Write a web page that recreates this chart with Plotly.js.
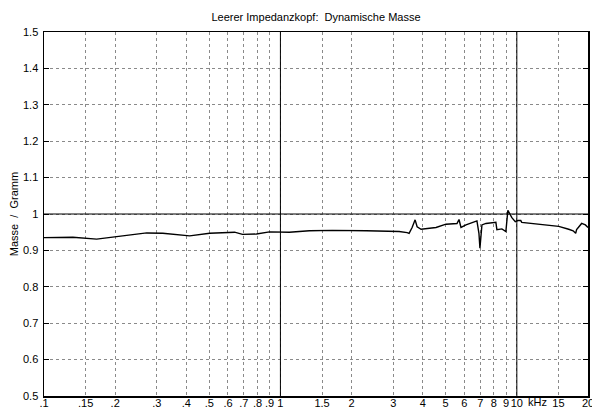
<!DOCTYPE html>
<html>
<head>
<meta charset="utf-8">
<script src="https://cdn.plot.ly/plotly-3.0.1.min.js"></script>
<style>html,body{margin:0;padding:0;background:#fff;}#chart{width:592px;height:408px;}</style>
</head>
<body>
<div id="chart"></div>
<script>
// Frequency in kHz
const freq = [0.1, 0.1325, 0.167, 0.203, 0.272, 0.318, 0.413, 0.502, 0.64, 0.691,
  0.792, 0.899, 1.09, 1.326, 1.658, 2.307, 2.617, 3.178, 3.435, 3.502,
  3.606, 3.713, 3.786, 3.936, 4.552, 5.016, 5.583, 5.694, 5.805, 6.094,
  6.78, 6.914, 6.981, 7.118, 7.4, 8.155, 8.234, 8.645, 8.988, 9.075,
  9.163, 9.526, 9.85, 10.1, 10.39, 10.49, 11.57, 13.0, 15.04, 16.57,
  17.3, 17.74, 17.9, 18.8, 19.5, 20];
// Dynamic mass in gram
const mass = [0.935, 0.936, 0.931, 0.937, 0.948, 0.947, 0.940, 0.947, 0.950, 0.944,
  0.945, 0.951, 0.950, 0.954, 0.955, 0.954, 0.954, 0.952, 0.949, 0.947,
  0.963, 0.984, 0.965, 0.958, 0.963, 0.972, 0.974, 0.985, 0.963, 0.970,
  0.981, 0.947, 0.906, 0.970, 0.974, 0.977, 0.957, 0.959, 0.952, 0.979,
  1.010, 0.990, 0.979, 0.982, 0.982, 0.977, 0.974, 0.971, 0.966, 0.958,
  0.954, 0.947, 0.957, 0.974, 0.970, 0.963];

const xTickVals = [0.1, 0.15, 0.2, 0.3, 0.4, 0.5, 0.6, 0.7, 0.8, 0.9, 1, 1.5, 2, 3, 4, 5, 6, 7, 8, 9, 10, 15, 20];
const xTickText = ['.1', '.15', '.2', '.3', '.4', '.5', '.6', '.7', '.8', '.9', '1', '1.5', '2', '3', '4', '5', '6', '7', '8', '9', '10', '15', '20'];
const yTickVals = [0.5, 0.6, 0.7, 0.8, 0.9, 1, 1.1, 1.2, 1.3, 1.4, 1.5];
const yTickText = ['0.5', '0.6', '0.7', '0.8', '0.9', '1', '1.1', '1.2', '1.3', '1.4', '1.5'];
const decadeLines = [1, 10];
const yRange = [0.5, 1.5];
const xRange = [0.1, 20];

const font = 'Liberation Sans, Arial, Helvetica, sans-serif';

const traces = decadeLines.map(v => ({
  x: [v, v], y: yRange, mode: 'lines', type: 'scatter',
  line: {color: '#000', width: 1}, hoverinfo: 'skip', showlegend: false
}));
traces.push({
  x: freq, y: mass, mode: 'lines', type: 'scatter',
  line: {color: '#000', width: 1.4}, showlegend: false
});

const layout = {
  width: 592, height: 408,
  margin: {l: 44, r: 4, t: 32, b: 12, pad: 0},
  paper_bgcolor: '#fff', plot_bgcolor: '#fff',
  font: {family: font, size: 11, color: '#000'},
  title: {text: 'Leerer Impedanzkopf:  Dynamische Masse', x: 0.5, xref: 'paper', y: 0.958, yref: 'container', yanchor: 'middle', font: {size: 11, family: font, color: '#000'}},
  xaxis: {
    type: 'log', range: [Math.log10(xRange[0]), Math.log10(xRange[1])],
    tickvals: xTickVals, ticktext: xTickText, tickangle: 0,
    showgrid: true, gridcolor: '#8a8a8a', griddash: 'dot', gridwidth: 1,
    showline: true, mirror: true, linecolor: '#000', linewidth: 1.5,
    ticks: '', zeroline: false, automargin: false,
    ticklabelstandoff: -4, ticklabeloverflow: 'allow',
    tickfont: {size: 11, family: font, color: '#000'}
  },
  yaxis: {
    range: yRange, tickvals: yTickVals, ticktext: yTickText,
    showgrid: true, gridcolor: '#8a8a8a', griddash: 'dot', gridwidth: 1,
    showline: true, mirror: 'ticks', linecolor: '#000', linewidth: 1.5,
    ticks: 'inside', ticklen: 5, tickcolor: '#000', ticklabelstandoff: 2,
    zeroline: false, automargin: false, ticklabeloverflow: 'allow',
    title: {text: 'Masse  /  Gramm', standoff: 2, font: {size: 11, family: font, color: '#000'}},
    tickfont: {size: 11, family: font, color: '#000'}
  },
  shapes: [{
    type: 'line', xref: 'paper', x0: 0, x1: 1, yref: 'y', y0: 1, y1: 1,
    line: {color: '#000', width: 1}
  }],
  annotations: [{
    text: 'kHz', xref: 'paper', x: (Math.log10(10) - Math.log10(0.1)) / (Math.log10(20) - Math.log10(0.1)),
    xshift: 9, xanchor: 'left', yref: 'paper', y: 0, yanchor: 'top', yshift: 2,
    showarrow: false, font: {size: 11, family: font, color: '#000'}
  }]
};

Plotly.newPlot('chart', traces, layout, {displayModeBar: false, staticPlot: true});
</script>
</body>
</html>
